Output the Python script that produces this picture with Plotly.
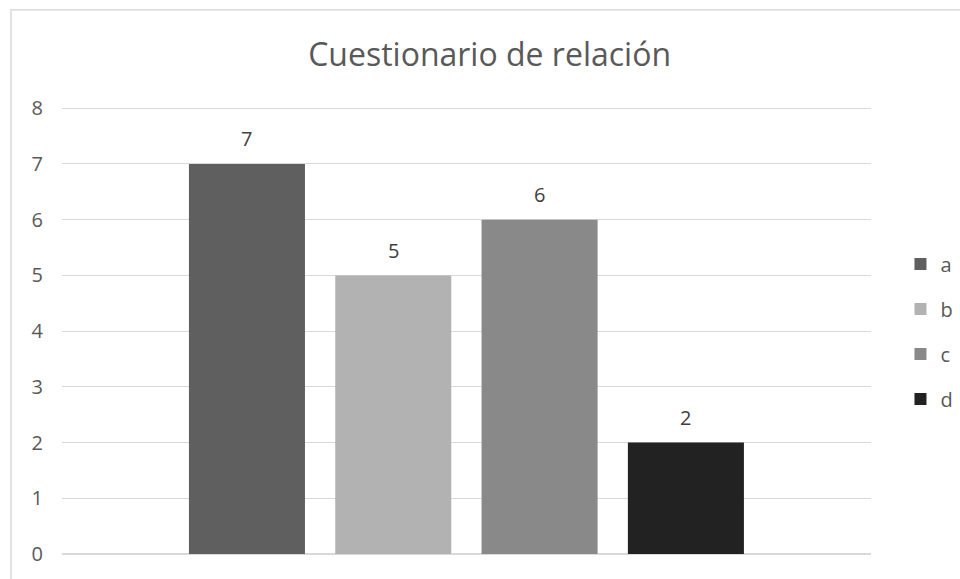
import plotly.graph_objects as go

# Series of the questionnaire and their counts
series = ["a", "b", "c", "d"]
values = [7, 5, 6, 2]
colors = ["#5f5f5f", "#b2b2b2", "#898989", "#222222"]
y_ticks = [0, 1, 2, 3, 4, 5, 6, 7, 8]

FONT = "Open Sans, DejaVu Sans, sans-serif"
TEXT = "#595959"
GRID = "#d9d9d9"

fig = go.Figure()
for i, (name, val, col) in enumerate(zip(series, values, colors)):
    fig.add_trace(go.Bar(
        x=[i], y=[val], name=name, width=0.793,
        marker=dict(color=col, line=dict(width=0)),
        legendgroup=name, hoverinfo="skip",
    ))
    # value label above each bar
    fig.add_annotation(
        x=i, y=val, text=str(val), showarrow=False,
        yanchor="middle", yshift=25,
        font=dict(family=FONT, size=20, color="#404040"),
    )

# outer chart frame
fig.add_shape(
    type="rect", xref="paper", yref="paper",
    x0=-0.063, x1=1.2, y0=-0.2, y1=1.215,
    line=dict(color=GRID, width=1.5), fillcolor="rgba(0,0,0,0)",
    layer="below",
)

fig.update_layout(
    width=960, height=579,
    margin=dict(l=62, r=89, t=106, b=23),
    paper_bgcolor="white", plot_bgcolor="white",
    title=dict(
        text="Cuestionario de relación",
        x=0.51, xanchor="center", y=0.905, yanchor="middle",
        font=dict(family=FONT, size=32, color=TEXT),
    ),
    barmode="overlay",
    showlegend=True,
    legend=dict(
        xref="container", yref="container",
        x=0.938, xanchor="left", y=0.4275, yanchor="middle",
        font=dict(family=FONT, size=20, color=TEXT),
        tracegroupgap=16, itemwidth=30,
        bgcolor="rgba(0,0,0,0)",
    ),
    xaxis=dict(
        range=[-1.264, 4.265], showticklabels=False, showgrid=False,
        zeroline=False, showline=False, ticks="",
    ),
    yaxis=dict(
        range=[0, 8.04], tickvals=y_ticks, showgrid=True,
        gridcolor=GRID, gridwidth=1,
        zeroline=True, zerolinecolor=GRID, zerolinewidth=1.5,
        showline=False, ticks="", ticklabelstandoff=18,
        tickfont=dict(family=FONT, size=20, color=TEXT),
    ),
)

fig.write_html("out.html")
